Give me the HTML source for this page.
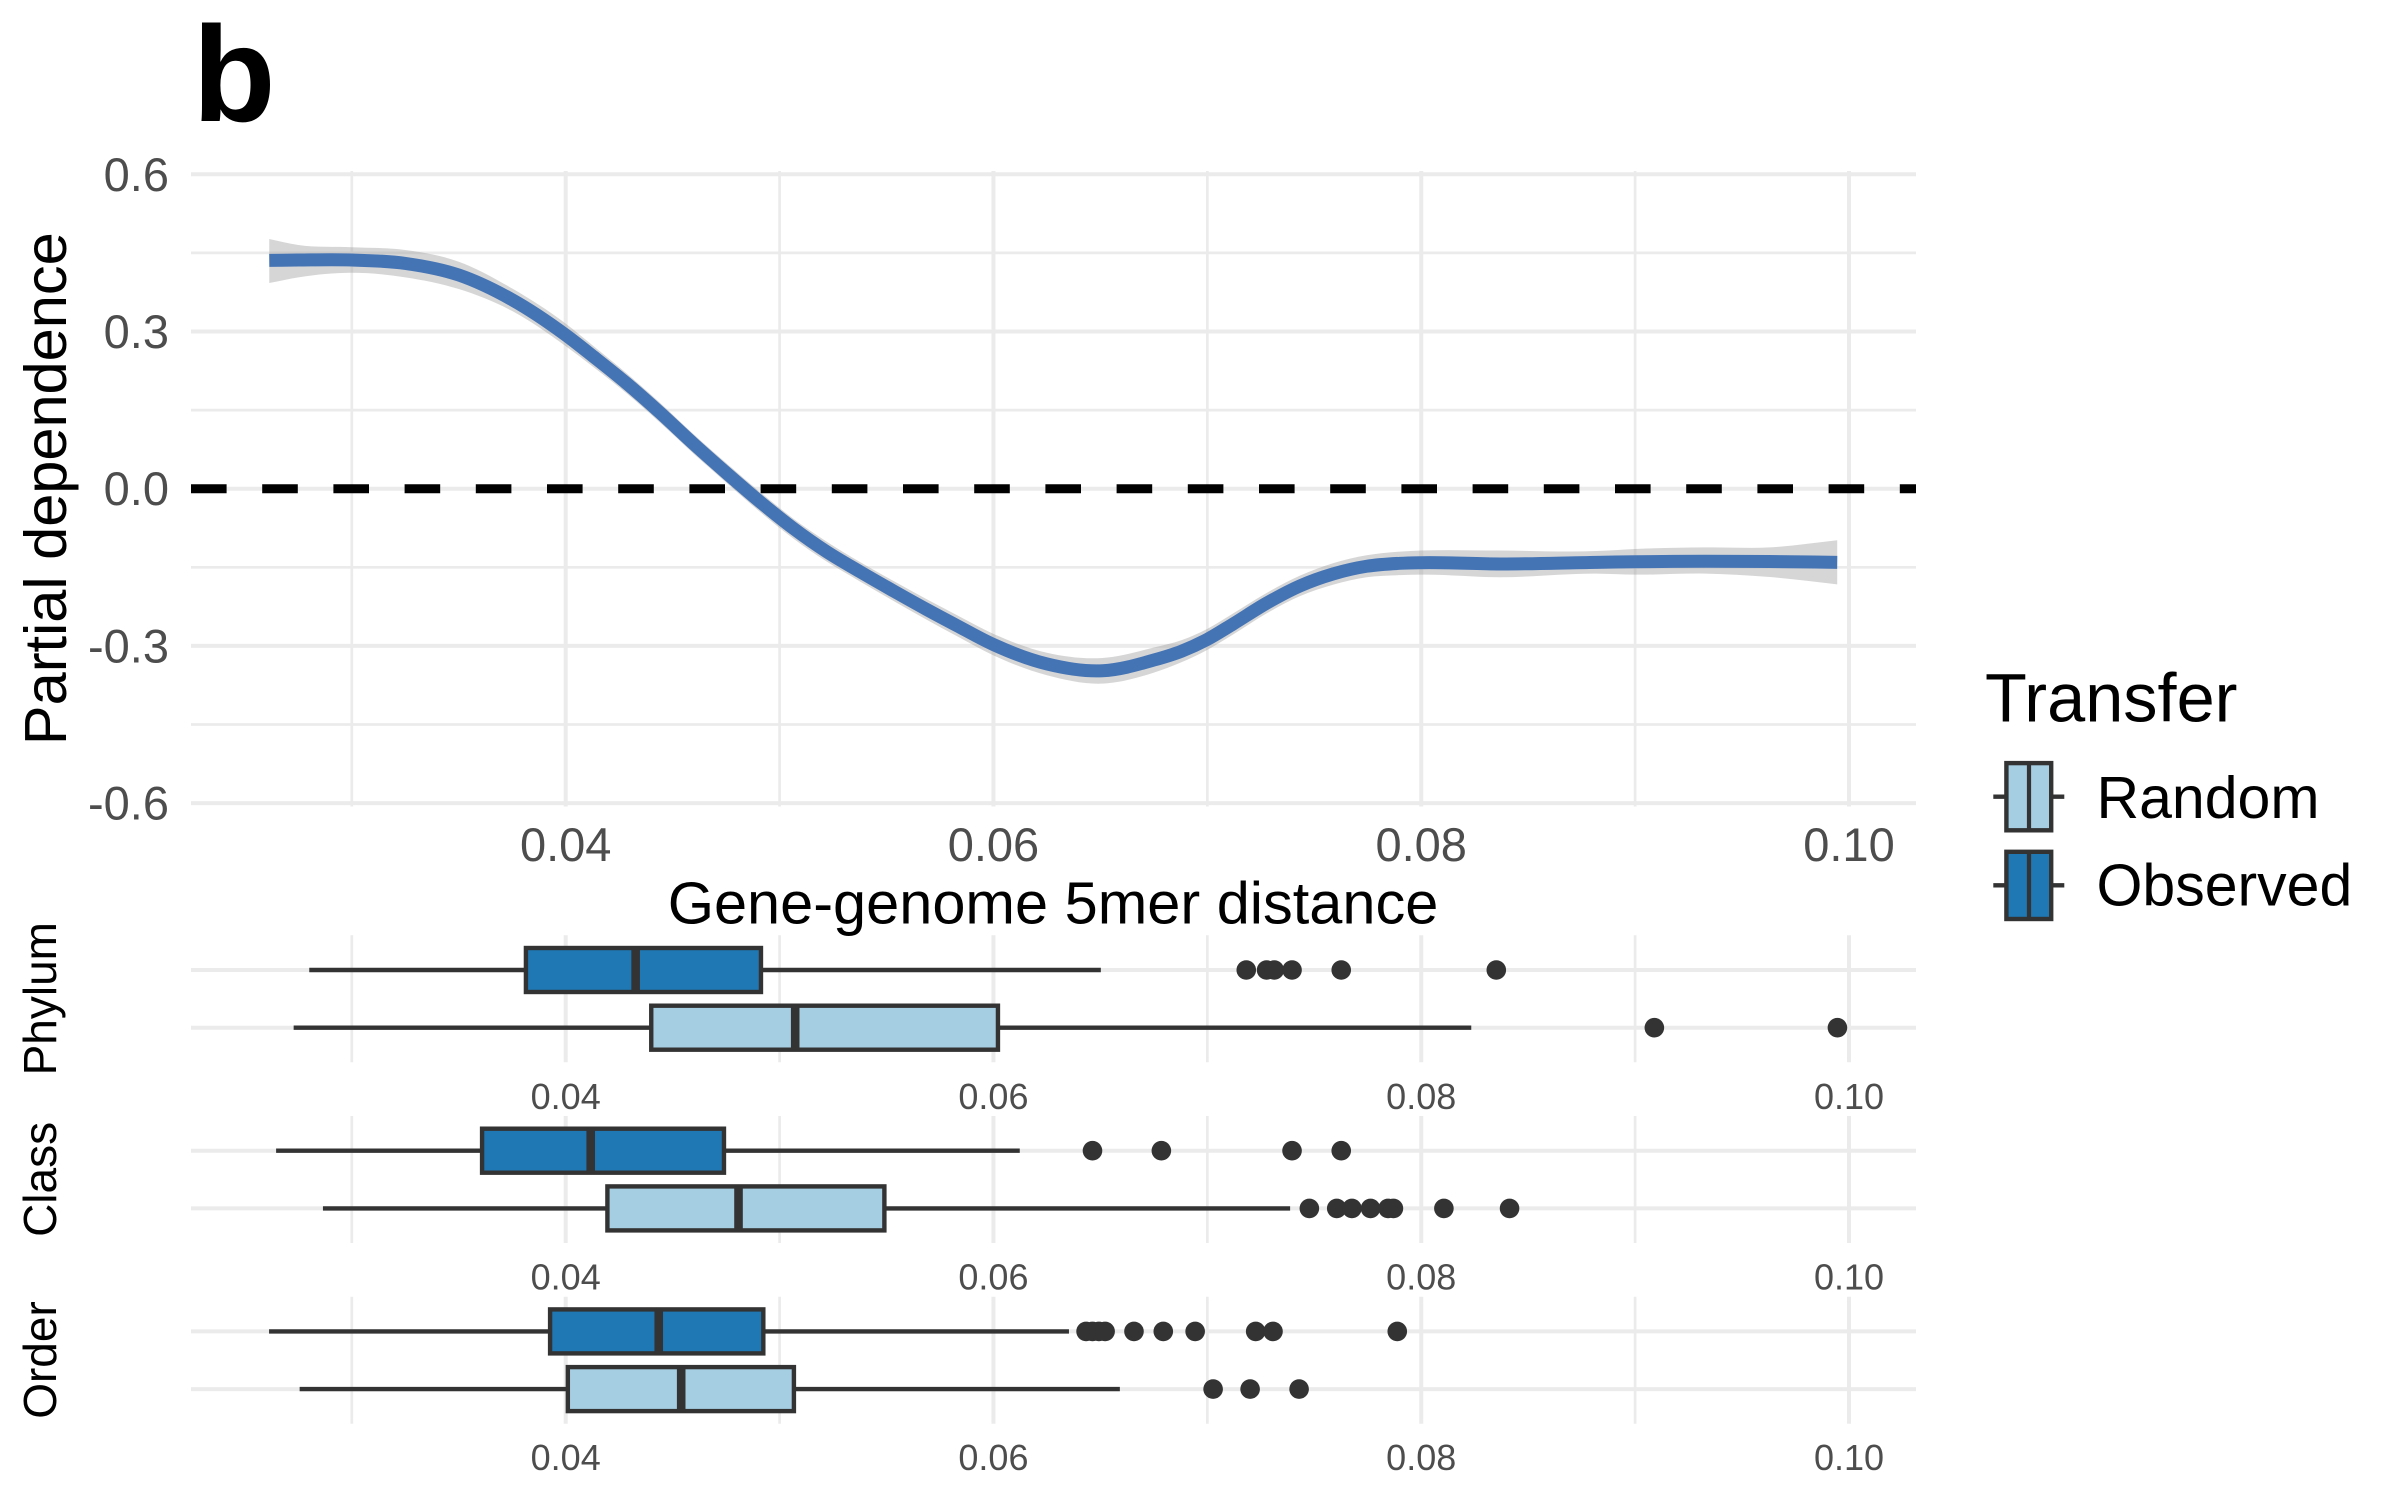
<!DOCTYPE html>
<html lang="en">
<head>
<meta charset="utf-8">
<title>Partial dependence and 5mer distance boxplots</title>
<style>
  html, body { margin: 0; padding: 0; background: #fff; }
  #figure { display: block; width: 2400px; height: 1500px; font-family: "Liberation Sans", sans-serif; }
</style>
</head>
<body>
<svg id="figure" xmlns="http://www.w3.org/2000/svg" width="2400" height="1500" viewBox="0 0 2400 1500">
  <rect x="0" y="0" width="2400" height="1500" fill="#ffffff"/>
  <g id="main-panel"></g>
  <g id="box-panels"></g>
  <text x="192.5" y="121" font-size="136" font-weight="700" fill="#000">b</text>
  <text transform="translate(66,488.7) rotate(-90)" text-anchor="middle" font-size="59.5" fill="#000">Partial dependence</text>
  <text x="1053" y="923.5" text-anchor="middle" font-size="59.5" fill="#000">Gene-genome 5mer distance</text>
  <text transform="translate(56,998.7) rotate(-90)" text-anchor="middle" font-size="46" fill="#000">Phylum</text>
  <text transform="translate(56,1179.4) rotate(-90)" text-anchor="middle" font-size="46" fill="#000">Class</text>
  <text transform="translate(56,1360) rotate(-90)" text-anchor="middle" font-size="46" fill="#000">Order</text>
  <g>
    <text x="1985" y="721.7" font-size="68.5" fill="#000">Transfer</text>
    <g>
      <line x1="1993.3" x2="2064.3" y1="796.7" y2="796.7" stroke="#333" stroke-width="4.4"/>
      <rect x="2006.4" y="763.1" width="44.8" height="67.2" fill="#a6cee3" stroke="#333" stroke-width="4.4"/>
      <line x1="2029" x2="2029" y1="763" y2="830" stroke="#333" stroke-width="4.2"/>
      <text x="2096.5" y="818" font-size="59" fill="#000">Random</text>
    </g>
    <g>
      <line x1="1993.3" x2="2064.3" y1="885.3" y2="885.3" stroke="#333" stroke-width="4.4"/>
      <rect x="2006.4" y="851.8" width="44.8" height="67.2" fill="#1f78b4" stroke="#333" stroke-width="4.4"/>
      <line x1="2029" x2="2029" y1="852" y2="919" stroke="#333" stroke-width="4.2"/>
      <text x="2096.5" y="905.5" font-size="59" fill="#000">Observed</text>
    </g>
  </g>
</svg>
<script>
// ---- axis ticks ----
const xMajorTicks = [0.04, 0.06, 0.08, 0.10];
const xMinorTicks = [0.03, 0.05, 0.07, 0.09];
const xTickLabels = ["0.04", "0.06", "0.08", "0.10"];
const yMajorTicks = [0.6, 0.3, 0, -0.3, -0.6];
const yMinorTicks = [0.45, 0.15, -0.15, -0.45];
const yTickLabels = ["0.6", "0.3", "0.0", "-0.3", "-0.6"];
const referenceLine = [0];

// ---- smooth curve (partial dependence) ----
const smoothX = [0.02614,0.0275,0.03,0.0325,0.035,0.0375,0.04,0.0413,0.04285,0.04441,0.04595,0.04753,0.04908,0.05064,0.0522,0.05376,0.05532,0.05688,0.05828,0.06,0.0625,0.0651,0.0675,0.0688,0.07,0.07121,0.07277,0.07433,0.07589,0.07745,0.07901,0.08,0.08368,0.0882,0.09,0.0933,0.0963,0.09945];
const smoothY = [0.4358,0.4364,0.4364,0.430,0.4078,0.3605,0.2933,0.252,0.201,0.145,0.0866,0.0294,-0.0248,-0.0756,-0.1202,-0.1584,-0.1950,-0.2305,-0.2610,-0.2975,-0.3345,-0.3475,-0.327,-0.310,-0.2875,-0.258,-0.2185,-0.1855,-0.1625,-0.1480,-0.1424,-0.1412,-0.1437,-0.1405,-0.1395,-0.1385,-0.139,-0.1405];
const smoothLow = [0.3926,0.4034,0.4122,0.4034,0.381,0.339,0.272,0.232,0.182,0.126,0.068,0.011,-0.044,-0.095,-0.139,-0.177,-0.214,-0.25,-0.281,-0.318,-0.356,-0.372,-0.351,-0.331,-0.3075,-0.278,-0.238,-0.205,-0.183,-0.169,-0.165,-0.164,-0.169,-0.162,-0.164,-0.162,-0.1686,-0.1825];
const smoothHigh = [0.4765,0.465,0.4607,0.4555,0.4332,0.382,0.315,0.272,0.220,0.164,0.105,0.048,-0.006,-0.057,-0.101,-0.14,-0.176,-0.211,-0.241,-0.277,-0.313,-0.323,-0.303,-0.289,-0.2675,-0.238,-0.199,-0.166,-0.142,-0.127,-0.12,-0.118,-0.118,-0.119,-0.115,-0.112,-0.112,-0.0985];

// ---- boxplot summaries: [whisker low, q1, median, q3, whisker high] ----
const phylumObservedBox = [0.02801, 0.03814, 0.04327, 0.04913, 0.06502];
const phylumRandomBox = [0.02728, 0.0440, 0.05073, 0.06021, 0.08234];
const classObservedBox = [0.02646, 0.03609, 0.04117, 0.0474, 0.06123];
const classRandomBox = [0.02865, 0.04195, 0.04808, 0.0549, 0.07387];
const orderObservedBox = [0.02613, 0.03927, 0.04435, 0.04924, 0.06353];
const orderRandomBox = [0.02756, 0.0401, 0.0454, 0.05067, 0.06591];

// ---- boxplot outliers ----
const phylumObservedOutliers = [0.07182, 0.07277, 0.07313, 0.07396, 0.07626, 0.08351];
const phylumRandomOutliers = [0.0909, 0.09946];
const classObservedOutliers = [0.06463, 0.06785, 0.07396, 0.07626];
const classRandomOutliers = [0.07477, 0.07605, 0.07676, 0.07763, 0.07845, 0.0787, 0.08106, 0.08413];
const orderObservedOutliers = [0.06433, 0.06463, 0.06493, 0.06522, 0.06657, 0.06794, 0.06943, 0.07226, 0.07307, 0.07888];
const orderRandomOutliers = [0.07027, 0.072, 0.07429];

// ---- axis functions ----
const xScale = v => 565.7 + (v - 0.04) * 21388;
const yScale = v => 488.7 - v * 524;

const NS = 'http://www.w3.org/2000/svg';
const GRID = '#ebebeb';
const INK = '#333333';
const mainGroup = document.getElementById('main-panel');
const boxGroup = document.getElementById('box-panels');

function make(parent, tag, props, text) {
  const el = document.createElementNS(NS, tag);
  for (const k in props) el.setAttribute(k, props[k]);
  if (text !== undefined) el.textContent = text;
  parent.appendChild(el);
  return el;
}

// Cubic Hermite through the points, with tangents weighted by x spacing.
function splineSegments(pts) {
  const n = pts.length;
  const tangents = pts.map((p, i) => {
    if (i === 0) return (pts[1][1] - p[1]) / (pts[1][0] - p[0]);
    if (i === n - 1) return (p[1] - pts[i - 1][1]) / (p[0] - pts[i - 1][0]);
    const h0 = p[0] - pts[i - 1][0], h1 = pts[i + 1][0] - p[0];
    const s0 = (p[1] - pts[i - 1][1]) / h0, s1 = (pts[i + 1][1] - p[1]) / h1;
    return (s0 * h1 + s1 * h0) / (h0 + h1);
  });
  let d = '';
  for (let i = 0; i < n - 1; i++) {
    const dx = (pts[i + 1][0] - pts[i][0]) / 3;
    const c1x = pts[i][0] + dx, c1y = pts[i][1] + tangents[i] * dx;
    const c2x = pts[i + 1][0] - dx, c2y = pts[i + 1][1] - tangents[i + 1] * dx;
    d += 'C' + c1x.toFixed(2) + ' ' + c1y.toFixed(2) + ' ' + c2x.toFixed(2) + ' ' + c2y.toFixed(2) + ' ' + pts[i + 1][0].toFixed(2) + ' ' + pts[i + 1][1].toFixed(2);
  }
  return d;
}

// ---- main panel ----
const PANEL_LEFT = 191, PANEL_RIGHT = 1916, PANEL_TOP = 171, PANEL_BOTTOM = 806.5;

yMinorTicks.forEach(v => {
  const el = make(mainGroup, 'line', {x1: PANEL_LEFT, x2: PANEL_RIGHT, y1: yScale(v), y2: yScale(v), stroke: GRID, 'stroke-width': 2.7});
  
  
});
xMinorTicks.forEach(v => {
  const el = make(mainGroup, 'line', {x1: xScale(v), x2: xScale(v), y1: PANEL_TOP, y2: PANEL_BOTTOM, stroke: GRID, 'stroke-width': 2.7});
  
  
});
yMajorTicks.forEach((v, i) => {
  const el = make(mainGroup, 'line', {x1: PANEL_LEFT, x2: PANEL_RIGHT, y1: yScale(v), y2: yScale(v), stroke: GRID, 'stroke-width': 4});
  
  
  const label = make(mainGroup, 'text', {x: 169, y: yScale(v) + 16.5, 'text-anchor': 'end', 'font-size': 47, fill: '#4d4d4d'}, yTickLabels[i]);
  
  
});
xMajorTicks.forEach((v, i) => {
  const el = make(mainGroup, 'line', {x1: xScale(v), x2: xScale(v), y1: PANEL_TOP, y2: PANEL_BOTTOM, stroke: GRID, 'stroke-width': 4});
  
  
  const label = make(mainGroup, 'text', {x: xScale(v), y: 861, 'text-anchor': 'middle', 'font-size': 47, fill: '#4d4d4d'}, xTickLabels[i]);
  
  
});

referenceLine.forEach(v => {
  const el = make(mainGroup, 'line', {x1: PANEL_LEFT, x2: PANEL_RIGHT, y1: yScale(v), y2: yScale(v), stroke: '#000', 'stroke-width': 9, 'stroke-dasharray': '35.6 35.6'});
  
  
});

const highPts = smoothX.map((x, i) => [xScale(x), yScale(smoothHigh[i])]);
const lowPts = smoothX.map((x, i) => [xScale(x), yScale(smoothLow[i])]).reverse();
const bandPath = 'M' + highPts[0].join(' ') + splineSegments(highPts) + 'L' + lowPts[0].join(' ') + splineSegments(lowPts.map(p => [-p[0], p[1]])).replace(/(C|\s)(-?[\d.]+) (-?[\d.]+)/g, (m, a, x, y) => a + (-parseFloat(x)).toFixed(2) + ' ' + y) + 'Z';
const band = make(mainGroup, 'path', {d: bandPath, fill: '#999999', 'fill-opacity': 0.4});



const linePts = smoothX.map((x, i) => [xScale(x), yScale(smoothY[i])]);
const curve = make(mainGroup, 'path', {d: 'M' + linePts[0].join(' ') + splineSegments(linePts), fill: 'none', stroke: '#4574b5', 'stroke-width': 13});



// ---- box panels ----
const ROW_OBSERVED = 34.7, ROW_RANDOM = 92.4, BOX_PANEL_HEIGHT = 127;
const panelOrder = ['phylum', 'class', 'order'];
const panelTops = [935.3, 1116, 1296.7];
const observedBoxes = [phylumObservedBox, classObservedBox, orderObservedBox];
const randomBoxes = [phylumRandomBox, classRandomBox, orderRandomBox];
const observedOutliers = [phylumObservedOutliers, classObservedOutliers, orderObservedOutliers];
const randomOutliers = [phylumRandomOutliers, classRandomOutliers, orderRandomOutliers];

function drawBox(parent, stats, outliers, rowY, fill, seriesName) {
  const whisker = make(parent, 'line', {x1: xScale(stats[0]), x2: xScale(stats[4]), y1: rowY, y2: rowY, stroke: INK, 'stroke-width': 4.4});
  
  
  const box = make(parent, 'rect', {x: xScale(stats[1]), y: rowY - 22, width: xScale(stats[3]) - xScale(stats[1]), height: 44, fill: fill, stroke: INK, 'stroke-width': 4.4});
  
  
  const median = make(parent, 'line', {x1: xScale(stats[2]), x2: xScale(stats[2]), y1: rowY - 22, y2: rowY + 22, stroke: INK, 'stroke-width': 8.6});
  
  
  outliers.forEach(v => {
    const dot = make(parent, 'circle', {cx: xScale(v), cy: rowY, r: 9.8, fill: INK});
    
    
  });
}

panelOrder.forEach((panelName, p) => {
  const top = panelTops[p];
  const g = make(boxGroup, 'g', {});
  
  
  xMinorTicks.forEach(v => {
    const el = make(g, 'line', {x1: xScale(v), x2: xScale(v), y1: top, y2: top + BOX_PANEL_HEIGHT, stroke: GRID, 'stroke-width': 2.7});
    
    
  });
  xMajorTicks.forEach((v, i) => {
    const el = make(g, 'line', {x1: xScale(v), x2: xScale(v), y1: top, y2: top + BOX_PANEL_HEIGHT, stroke: GRID, 'stroke-width': 4});
    
    
    const label = make(g, 'text', {x: xScale(v), y: top + 173.5, 'text-anchor': 'middle', 'font-size': 36, fill: '#4d4d4d'}, xTickLabels[i]);
    
    
  });
  [ROW_OBSERVED, ROW_RANDOM].forEach(offset => {
    const el = make(g, 'line', {x1: PANEL_LEFT, x2: PANEL_RIGHT, y1: top + offset, y2: top + offset, stroke: GRID, 'stroke-width': 4});
    
    
  });
  drawBox(g, observedBoxes[p], observedOutliers[p], top + ROW_OBSERVED, '#1f78b4', panelName + '-observed');
  drawBox(g, randomBoxes[p], randomOutliers[p], top + ROW_RANDOM, '#a6cee3', panelName + '-random');
});
</script>
</body>
</html>
